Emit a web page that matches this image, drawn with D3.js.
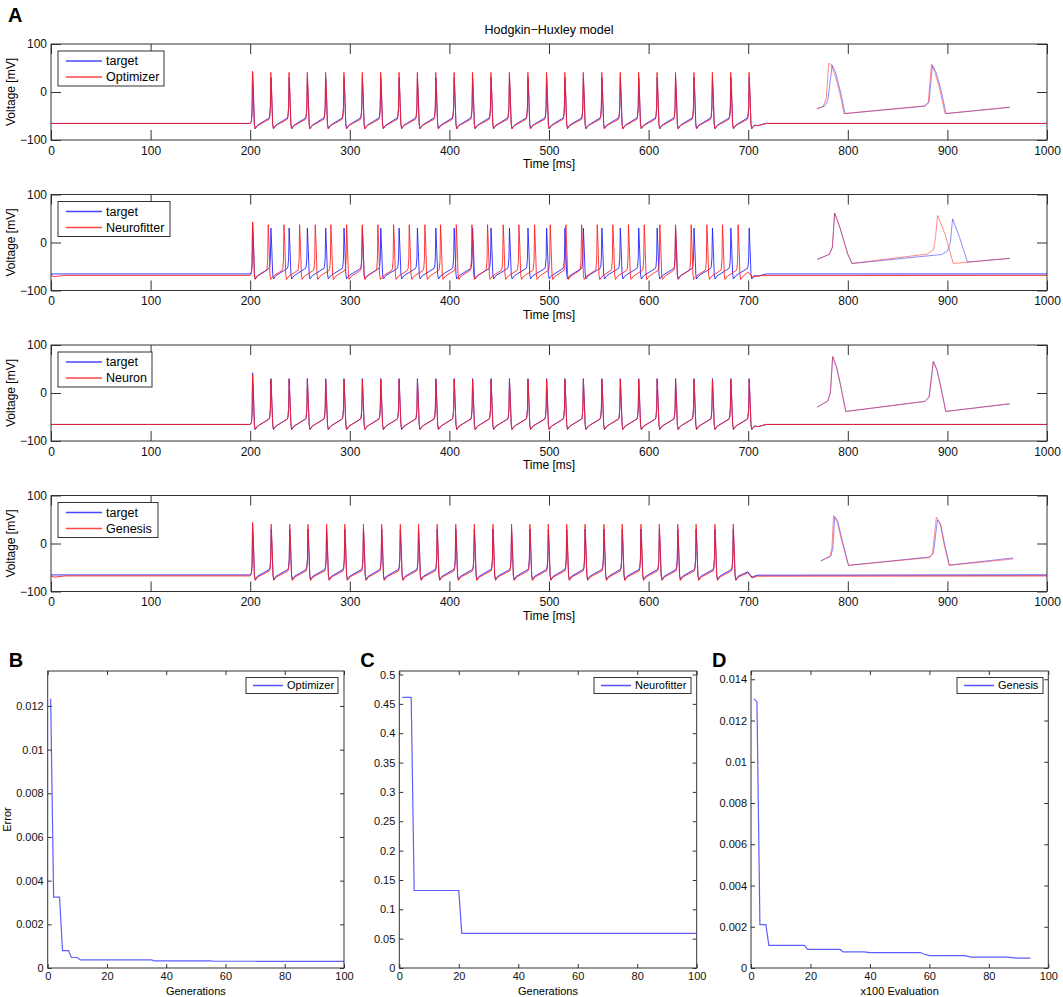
<!DOCTYPE html>
<html>
<head>
<meta charset="utf-8">
<script src="https://cdn.jsdelivr.net/npm/d3@7"></script>
<style>
body{margin:0;background:#fff;}
svg{font-family:"Liberation Sans",Arial,Helvetica,sans-serif;}
.axis path{display:none;}
.axis line{stroke:#333;stroke-width:1;}
.axis text{fill:#111;}
</style>
</head>
<body>
<svg id="svg1" width="1063" height="997"></svg>
<script>
// ---- data ----
// spike peak times (ms)
const targetSpikes = [202.4,220.8,239.1,257.4,275.8,294.2,312.6,331.1,349.5,367.9,386.4,404.8,423.3,441.8,
  460.3,478.9,497.6,516.0,534.5,553.1,571.6,590.1,608.6,627.1,645.6,664.1,682.6,701.0];
const optimizerSpikes = [202.3,220.7,239.0,257.3,275.7,294.1,312.5,331.0,349.4,367.8,386.3,404.7,423.2,441.7,
  460.2,478.8,497.5,515.9,534.4,553.0,571.5,590.0,608.5,627.0,645.5,664.0,682.5,700.9];
const neurofitterSpikes = [202.4,218.1,233.9,249.6,265.3,281.0,296.8,312.5,328.2,344.0,359.7,375.4,391.1,406.9,
  422.6,438.3,454.0,469.8,485.5,501.2,516.9,532.7,548.4,564.1,579.8,595.6,611.3,627.0,642.7,658.5,674.2,689.9];
const neuronSpikes = targetSpikes;
const genesisSpikes = [202.4,221.1,239.7,258.0,276.7,295.0,313.7,332.0,350.7,369.0,387.7,406.4,425.0,443.7,
  462.4,480.8,499.3,517.8,536.2,555.1,573.5,592.3,610.8,629.3,647.7,666.6,685.0];

// magnified spikes drawn inside each voltage panel [ms, mV]
const insetOptTarget = [[769,-35],[777,-29],[780,-16],[784.3,55.6],[787.8,40],[793,-2],[797.2,-45],[877.4,-29.6],
  [881.5,-22],[885,55.6],[888.5,42],[893.5,5],[898.6,-45],[962.7,-32]];
const insetOptModel = [[769.3,-35.2],[775.3,-29.6],[778.4,-12.7],[780.8,59.2],[783.3,57.7],[787.5,33.1],[792,-2],
  [796.2,-45],[876.7,-28.9],[880.8,-21.8],[884,57.7],[887,43.7],[892,8.5],[897.6,-45],[962.7,-31.7]];
const insetNfTarget = [[769.3,-35.2],[781.5,-24.6],[784.5,-10],[786.8,61.3],[792,31.7],[800,-24.6],[804.2,-43.7],
  [894,-25],[900,-18],[903,0],[905.2,49.3],[912.2,10.6],[920.2,-40.8],[962.7,-33]];
const insetNfModel = [[769.3,-35.2],[781.5,-24.6],[784.5,-10],[786.8,61.3],[792,31.7],[800,-24.6],[804.2,-43.7],
  [880,-24],[886,-15],[888,10],[890.2,56.3],[897.6,17.6],[905.9,-43.7],[962.7,-33]];
const insetNeuronTarget = [[769.3,-29.4],[779.8,-16.8],[782.5,0],[784.9,76],[788.7,54.5],[793.2,12.6],[798,-38.5],
  [877.4,-17.5],[881.7,-8.4],[886,66],[889.7,47.6],[894.2,5.6],[898.4,-38.5],[962.7,-22.4]];
const insetNeuronModel = [[769.3,-29.4],[779.8,-16.8],[782.5,0],[784.7,75.5],[788.5,54.5],[793,12.6],[797.9,-38.5],
  [877.4,-17.5],[881.5,-8.4],[885.7,65],[889.5,47.6],[894,5.6],[898.3,-38.5],[962.7,-22.4]];
const insetGenTarget = [[772.8,-36.4],[783,-26],[785,-10],[786.8,54.5],[790,45],[795,2],[800.7,-45.5],[882.5,-28],
  [886,-20],[890,49],[893.5,38],[897.5,-5],[902,-45],[966.2,-30]];
const insetGenModel = [[772.8,-36.4],[782.2,-26.6],[784,-10],[785.7,58],[788.5,52.4],[793.7,7],[800.7,-45.5],
  [881.9,-29.4],[885,-21],[888.9,54.5],[892.3,45.5],[896.5,0],[901.7,-45.5],[966.2,-32.2]];

// error curves
const optimizerGen = [1,2,4,5,7,8,10,11,35,36,55,56,70,71,100];
const optimizerErr = [0.01233,0.00325,0.00325,0.00080,0.00080,0.00048,0.00048,0.00037,0.00037,0.00033,0.00033,
  0.00031,0.00031,0.00030,0.00030];
const neurofitterGen = [1,4,5,20,21,100];
const neurofitterErr = [0.461,0.461,0.132,0.132,0.059,0.059];
const genesisEval = [1,2,3,5,6,18,19,30,31,38,40,57,58,60,72,74,86,90,94];
const genesisErr = [0.01305,0.0129,0.0021,0.0021,0.0011,0.0011,0.0009,0.0009,0.00078,0.00078,0.00075,0.00075,
  0.00068,0.0006,0.0006,0.00053,0.00053,0.00048,0.00048];

// tick labels
const timeTicks = [0,100,200,300,400,500,600,700,800,900,1000];
const voltTicks = [-100,0,100];
const genTicks = [0,20,40,60,80,100];
const errTicksB = [0,0.002,0.004,0.006,0.008,0.01,0.012];
const errTicksC = [0,0.05,0.1,0.15,0.2,0.25,0.3,0.35,0.4,0.45,0.5];
const errTicksD = [0,0.002,0.004,0.006,0.008,0.01,0.012,0.014];

const svg = d3.select('#svg1');
const BLUE = '#1a1aff', RED = '#ff1a1a';

// builds a voltage trace from spike times + levels read on the picture
function buildTrace(spikes, c) {
  const pts = [[0, c.rest]];
  c.startDip.forEach(p => pts.push(p));
  pts.push([spikes[0] - 2.4, c.rest]);
  spikes.forEach((ts, i) => {
    const pk = i === 0 ? c.firstPeak : c.peak;
    const pre = i === 0 ? c.rest : c.pre;
    pts.push([ts - 1.2, pre + 4], [ts - 0.5, pre + 22], [ts, pk]);
    pts.push([ts + 0.9, pk - 45], [ts + 1.8, c.trough + 10], [ts + 2.6, c.trough], [ts + 5, c.trough + 7]);
    if (i < spikes.length - 1) pts.push([spikes[i + 1] - 1.8, c.pre]);
  });
  c.tail.forEach(p => pts.push(p));
  return pts;
}

const targetTrace = buildTrace(targetSpikes, {rest:-65.5, startDip:[], firstPeak:42, peak:30, trough:-76, pre:-54,
  tail:[[710,-70],[718,-65.5],[1000,-65.5]]});
const optimizerTrace = buildTrace(optimizerSpikes, {rest:-65.5, startDip:[], firstPeak:43, peak:41, trough:-77, pre:-57,
  tail:[[710,-70],[718,-65.5],[1000,-65.5]]});
const neurofitterTrace = buildTrace(neurofitterSpikes, {rest:-68.5, startDip:[[3,-71],[15,-68.5]], firstPeak:43, peak:37,
  trough:-77, pre:-58, tail:[[699.5,-62],[701,-64],[704,-72],[712,-69],[1000,-68.5]]});
const neuronTrace = buildTrace(neuronSpikes, {rest:-65.5, startDip:[], firstPeak:38, peak:28, trough:-76, pre:-54.5,
  tail:[[710,-70],[718,-65.5],[1000,-65.5]]});
const genTargetTrace = buildTrace(genesisSpikes, {rest:-65.5, startDip:[], firstPeak:40, peak:30, trough:-75, pre:-54,
  tail:[[699.7,-59],[703.8,-70],[709,-66],[1000,-65.5]]});
const genesisTrace = buildTrace(genesisSpikes, {rest:-67.5, startDip:[[3,-70],[15,-67.5]], firstPeak:44, peak:40,
  trough:-77, pre:-57, tail:[[699.7,-61],[703.8,-72],[709,-68],[1000,-67.5]]});

const panels = [
  {top:44, name:'Optimizer', legW:106, target:targetTrace, model:optimizerTrace, inT:insetOptTarget, inM:insetOptModel},
  {top:194.5, name:'Neurofitter', legW:112, target:targetTrace, model:neurofitterTrace, inT:insetNfTarget, inM:insetNfModel},
  {top:345, name:'Neuron', legW:94, target:targetTrace, model:neuronTrace, inT:insetNeuronTarget, inM:insetNeuronModel},
  {top:495.5, name:'Genesis', legW:100, target:genTargetTrace, model:genesisTrace, inT:insetGenTarget, inM:insetGenModel}
];
const PH = 96;
const x = d3.scaleLinear().domain([0,1000]).range([51,1047]);

svg.append('text').attr('x',8).attr('y',22).style('font-size','20px').style('font-weight','bold').text('A');
svg.append('text').attr('x',549).attr('y',34).attr('text-anchor','middle').style('font-size','12.5px')
  .text('Hodgkin\u2212Huxley model');

panels.forEach(p => {
  const y = d3.scaleLinear().domain([-100,100]).range([p.top+PH, p.top]);
  const g = svg.append('g');
  const line = d3.line().x(d => x(d[0])).y(d => y(d[1]));

  g.append('path').attr('d', line(p.target)).attr('fill','none').attr('stroke',BLUE).attr('stroke-width',1).attr('opacity',0.85);
  g.append('path').attr('d', line(p.model)).attr('fill','none').attr('stroke',RED).attr('stroke-width',1).attr('opacity',0.85);
  g.append('path').attr('d', line(p.inT)).attr('fill','none').attr('stroke',BLUE).attr('stroke-width',1).attr('opacity',0.5);
  g.append('path').attr('d', line(p.inM)).attr('fill','none').attr('stroke',RED).attr('stroke-width',1).attr('opacity',0.5);

  // axes with inward ticks, mirrored on top/right
  g.append('g').attr('class','axis').attr('transform',`translate(0,${p.top+PH})`)
    .call(d3.axisBottom(x).tickValues(timeTicks).tickSize(-10).tickPadding(6).tickFormat(d3.format('d')))
    .selectAll('text').style('font-size','12px');
  g.append('g').attr('class','axis').attr('transform',`translate(0,${p.top})`)
    .call(d3.axisTop(x).tickValues(timeTicks).tickSize(-10).tickFormat(''));
  g.append('g').attr('class','axis').attr('transform',`translate(${x(0)},0)`)
    .call(d3.axisLeft(y).tickValues(voltTicks).tickSize(-10).tickPadding(4).tickFormat(d3.format('d')))
    .selectAll('text').style('font-size','12px');
  g.append('g').attr('class','axis').attr('transform',`translate(${x(1000)},0)`)
    .call(d3.axisRight(y).tickValues(voltTicks).tickSize(-10).tickFormat(''));
  g.append('rect').attr('x',x(0)).attr('y',p.top).attr('width',x(1000)-x(0)).attr('height',PH)
    .attr('fill','none').attr('stroke','#333');

  g.append('text').attr('transform',`translate(15,${p.top+PH/2}) rotate(-90)`).attr('text-anchor','middle')
    .style('font-size','12px').text('Voltage [mV]');
  g.append('text').attr('x',549).attr('y',p.top+PH+28).attr('text-anchor','middle').style('font-size','12px').text('Time [ms]');

  // legend
  const lg = g.append('g').attr('transform',`translate(58,${p.top+7})`);
  lg.append('rect').attr('width',p.legW).attr('height',35).attr('fill','#fff').attr('stroke','#333');
  [['target',BLUE],[p.name,RED]].forEach((e,i) => {
    const ly = 10 + i*16;
    lg.append('line').attr('x1',8).attr('x2',44).attr('y1',ly).attr('y2',ly).attr('stroke',e[1])
      .attr('stroke-width',1.5).attr('opacity',0.8);
    lg.append('text').attr('x',48).attr('y',ly).attr('dy','0.35em').style('font-size','12.5px').text(e[0]);
  });
});

// ---- error panels ----
const errPanels = [
  {letter:'B', left:47.7, right:344, ymax:0.0136, ticks:errTicksB, xs:optimizerGen, ys:optimizerErr, name:'Optimizer',
   xlabel:'Generations', leg:[246,92], ylabel:'Error'},
  {letter:'C', left:399.3, right:696.7, ymax:0.506, ticks:errTicksC, xs:neurofitterGen, ys:neurofitterErr, name:'Neurofitter',
   xlabel:'Generations', leg:[594,97]},
  {letter:'D', left:751, right:1048.3, ymax:0.0144, ticks:errTicksD, xs:genesisEval, ys:genesisErr, name:'Genesis',
   xlabel:'x100 Evaluation', leg:[957,86]}
];
const ET = 671, EB = 968;
const fmt = d => String(+d.toFixed(4));

errPanels.forEach(p => {
  const ex = d3.scaleLinear().domain([0,100]).range([p.left,p.right]);
  const ey = d3.scaleLinear().domain([0,p.ymax]).range([EB,ET]);
  const g = svg.append('g');
  const data = p.xs.map((v,i) => [v, p.ys[i]]);
  g.append('path').attr('d', d3.line().x(d => ex(d[0])).y(d => ey(d[1]))(data))
    .attr('fill','none').attr('stroke',BLUE).attr('stroke-width',1.2).attr('opacity',0.7);

  g.append('g').attr('class','axis').attr('transform',`translate(0,${EB})`)
    .call(d3.axisBottom(ex).tickValues(genTicks).tickSize(-4).tickPadding(4))
    .selectAll('text').style('font-size','11px');
  g.append('g').attr('class','axis').attr('transform',`translate(0,${ET})`)
    .call(d3.axisTop(ex).tickValues(genTicks).tickSize(-4).tickFormat(''));
  g.append('g').attr('class','axis').attr('transform',`translate(${p.left},0)`)
    .call(d3.axisLeft(ey).tickValues(p.ticks).tickSize(-4).tickPadding(4).tickFormat(fmt))
    .selectAll('text').style('font-size','11px');
  g.append('g').attr('class','axis').attr('transform',`translate(${p.right},0)`)
    .call(d3.axisRight(ey).tickValues(p.ticks).tickSize(-4).tickFormat(''));
  g.append('rect').attr('x',p.left).attr('y',ET).attr('width',p.right-p.left).attr('height',EB-ET)
    .attr('fill','none').attr('stroke','#333');

  g.append('text').attr('x',p.left-39).attr('y',667).style('font-size','20px').style('font-weight','bold').text(p.letter);
  g.append('text').attr('x',(p.left+p.right)/2).attr('y',995).attr('text-anchor','middle').style('font-size','11px').text(p.xlabel);
  if (p.ylabel) g.append('text').attr('transform',`translate(11,${(ET+EB)/2}) rotate(-90)`).attr('text-anchor','middle')
    .style('font-size','11px').text(p.ylabel);

  const lg = g.append('g').attr('transform',`translate(${p.leg[0]},677.5)`);
  lg.append('rect').attr('width',p.leg[1]).attr('height',16).attr('fill','#fff').attr('stroke','#333');
  lg.append('line').attr('x1',7).attr('x2',37).attr('y1',8).attr('y2',8).attr('stroke',BLUE)
    .attr('stroke-width',1.5).attr('opacity',0.75);
  lg.append('text').attr('x',41).attr('y',8).attr('dy','0.35em').style('font-size','11px').text(p.name);
});
</script>
</body>
</html>
